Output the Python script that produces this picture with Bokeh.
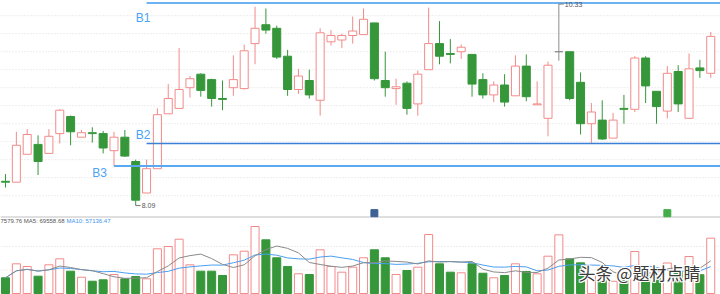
import numpy as np
import pandas as pd
from bokeh.plotting import figure
from bokeh.models import Range1d, Label, Span, BoxAnnotation
from bokeh.embed import file_html
from bokeh.resources import INLINE

# ---- data ----
opens = [8.36, 8.35, 8.66, 8.77, 8.67, 8.89, 9.08, 8.85, 8.90, 8.89,
         8.70, 8.85, 8.58, 8.23, 8.50, 9.11, 9.17, 9.40, 9.55, 9.49,
         9.28, 9.40, 9.39, 9.89, 10.10, 10.06, 9.75, 9.38, 9.48, 9.26,
         9.91, 9.93, 9.98, 9.99, 10.12, 9.48, 9.39, 9.45, 9.22, 9.60,
         9.89, 9.78, 9.80, 9.77, 9.49, 9.32, 9.43, 9.31, 9.64, 9.21,
         9.06, 9.80, 9.80, 9.46, 9.00, 9.04, 8.84, 9.17, 9.16, 9.73,
         9.36, 9.14, 9.58, 9.06, 9.62, 9.56]
highs = [8.44, 8.91, 8.94, 8.87, 8.94, 9.16, 9.09, 8.93, 8.96, 8.92,
         8.91, 8.93, 8.60, 8.60, 9.17, 9.44, 9.84, 9.53, 9.56, 9.50,
         9.48, 9.76, 9.88, 10.30, 10.28, 10.09, 9.82, 9.61, 9.60, 10.06,
         10.04, 10.00, 10.19, 10.28, 10.12, 9.80, 9.50, 9.47, 9.59, 10.29,
         10.14, 9.94, 9.88, 9.77, 9.56, 9.47, 9.55, 9.76, 9.77, 9.47,
         9.69, 10.33, 9.80, 9.57, 9.23, 9.26, 9.12, 9.32, 9.75, 9.75,
         9.36, 9.64, 9.65, 9.78, 9.71, 10.02]
lows = [8.29, 8.35, 8.66, 8.43, 8.67, 8.78, 8.76, 8.85, 8.79, 8.67,
        8.53, 8.63, 8.09, 8.23, 8.50, 9.11, 9.17, 9.29, 9.30, 9.19,
        9.15, 9.31, 9.38, 9.66, 10.00, 9.72, 9.31, 9.33, 9.28, 9.09,
        9.87, 9.84, 9.89, 9.99, 9.48, 9.30, 9.21, 9.10, 9.09, 9.60,
        9.66, 9.67, 9.72, 9.30, 9.28, 9.24, 9.19, 9.31, 9.25, 9.21,
        8.86, 9.70, 9.26, 8.88, 8.78, 8.82, 8.84, 9.00, 9.13, 9.23,
        9.00, 9.06, 9.13, 9.06, 9.51, 9.51]
closes = [8.35, 8.76, 8.88, 8.58, 8.86, 9.15, 8.91, 8.90, 8.89, 8.73,
          8.85, 8.64, 8.15, 8.50, 9.10, 9.28, 9.38, 9.50, 9.37, 9.28,
          9.27, 9.49, 9.81, 10.06, 10.04, 9.74, 9.38, 9.53, 9.32, 10.01,
          9.98, 9.98, 10.03, 10.16, 9.50, 9.40, 9.41, 9.17, 9.55, 9.89,
          9.75, 9.77, 9.85, 9.44, 9.32, 9.43, 9.24, 9.64, 9.30, 9.22,
          9.65, 9.80, 9.28, 9.00, 9.13, 8.83, 9.04, 9.16, 9.73, 9.42,
          9.19, 9.56, 9.22, 9.61, 9.59, 9.97]
volumes = [33400, 63100, 57400, 36800, 61000, 73700, 47400, 34600, 26100, 29100,
           40400, 31200, 36100, 31200, 95000, 99900, 115400, 61000, 47400, 47400,
           38300, 82200, 89900, 142400, 114100, 75900, 57400, 41900, 40400, 92900,
           57400, 45300, 55900, 75900, 92900, 75900, 40400, 48900, 55900, 125400,
           63100, 45300, 44000, 63100, 43100, 33400, 38300, 63100, 46800, 41900,
           79300, 124700, 73700, 65200, 38300, 27600, 26000, 31700, 89300, 38300,
           38300, 64800, 46900, 78600, 39900, 117580]
level_names = ["B1", "B2", "B3"]
level_prices = [10.34, 8.78, 8.53]
level_start = [13, 13, 10]
grid_prices = [8.2, 8.4, 8.6, 8.8, 9.0, 9.2, 9.4, 9.6, 9.8, 10.0, 10.2]
vol_grid = [50000, 100000]
icon_index = [34, 61]
icon_colors = ["#3e6094", "#43ad4a"]

PINK = "#f28a8a"
GREEN = "#36973a"
GRAY = "#8c8c8c"
BLUE = "#4da3f5"

n = len(opens)
idx = np.arange(n)
o = np.array(opens); c = np.array(closes)
h = np.array(highs); l = np.array(lows)
top = np.maximum(o, c); bot = np.minimum(o, c)
colors = [PINK if cc > oo else (GREEN if cc < oo else GRAY) for oo, cc in zip(o, c)]
fills = ["white" if cc > oo else (GREEN if cc < oo else GRAY) for oo, cc in zip(o, c)]
vcolors = [PINK if cc >= oo else GREEN for oo, cc in zip(o, c)]
vfills = ["white" if cc >= oo else GREEN for oo, cc in zip(o, c)]

XMAX = 65.9
p = figure(width=720, height=294, output_backend="svg", toolbar_location=None,
           x_range=Range1d(-0.461, XMAX), y_range=Range1d(7.102, 10.369),
           x_axis_type=None, y_axis_type=None, min_border=0,
           outline_line_color=None, background_fill_color="white",
           border_fill_color="white")
p.extra_y_ranges = {"vol": Range1d(-2125.5, 622771.5)}

# grids (drawn beneath the marks)
for g in grid_prices:
    p.add_layout(Span(location=g, dimension="width", line_color="#dcdcdc",
                      line_dash="1 2", line_width=1, level="underlay"))
for g in vol_grid:
    p.add_layout(Span(location=g, dimension="width", y_range_name="vol",
                      line_color="#dcdcdc", line_dash="1 2", line_width=1, level="underlay"))
p.add_layout(Span(location=7.963, dimension="width", line_color="#d4d4d4",
                  line_width=1.5, level="underlay"))

# candles: upper and lower wicks, then bodies
p.segment(idx, h, idx, top, color=colors, line_width=1)
p.segment(idx, bot, idx, l, color=colors, line_width=1)
p.vbar(x=idx, top=top, bottom=bot, width=0.74,
       fill_color=fills, line_color=colors, line_width=1)

# volume
p.vbar(x=idx, top=volumes, bottom=0, width=0.74, y_range_name="vol",
       fill_color=vfills, line_color=vcolors, line_width=1)
vs = pd.Series(volumes, dtype=float)
ma5 = vs.rolling(5, min_periods=1).mean()
ma10 = vs.rolling(10, min_periods=1).mean()
p.line(idx, ma10, y_range_name="vol", line_color="#4a9ff0", line_width=1)
p.line(idx, ma5, y_range_name="vol", line_color="#8a8a8a", line_width=1)

# level lines
lcolors = ["#6db3f2", "#3a7fd8", "#5aa9f2"]
lwidths = [2, 1.5, 2]
for name, pr, st, lc, lw in zip(level_names, level_prices, level_start, lcolors, lwidths):
    p.segment(x0=[st], y0=[pr], x1=[XMAX + 1], y1=[pr], line_color=lc, line_width=lw)

label_pos = {"B1": (12, 10.169), "B2": (12, 8.872), "B3": (8, 8.45)}
for name in level_names:
    lx, ly = label_pos[name]
    p.add_layout(Label(x=lx, y=ly, text=name, text_color=BLUE, text_font_size="12px",
                       text_font="Liberation Sans", text_baseline="middle", text_align="left"))

# extreme markers
imax = int(np.argmax(highs)); imin = int(np.argmin(lows))
for i, val, in [(imax, highs[imax]), (imin, lows[imin])]:
    p.segment(x0=[i], y0=[val], x1=[i + 0.45], y1=[val], line_color="#777777", line_width=1)
    p.add_layout(Label(x=i + 0.55, y=val, text=f"{val:.2f}", text_color="#555555",
                       text_font_size="7px", text_font="Liberation Sans",
                       text_baseline="middle", text_align="left"))

# small icons at bottom of price panel
for ii, ic in zip(icon_index, icon_colors):
    p.add_layout(BoxAnnotation(left=ii - 0.32, right=ii + 0.32, bottom=7.966, top=8.045,
                               fill_color=ic, fill_alpha=1.0, line_color=ic,
                               line_alpha=1.0, line_width=1))

# volume header text
p.add_layout(Label(x=0, y=73.5, x_units="screen", y_units="screen",
                   text="7579.76 MA5: 69558.68", text_color="#555555",
                   text_font_size="6px", text_font="Liberation Sans", text_baseline="middle"))
p.add_layout(Label(x=66, y=73.5, x_units="screen", y_units="screen",
                   text="MA10: 57136.47", text_color="#3d94ef",
                   text_font_size="6px", text_font="Liberation Sans", text_baseline="middle"))

# watermark
wm = "头条 @题材点睛"
for dx, dy in [(-1, 0), (1, 0), (0, -1), (0, 1), (-1, -1), (1, 1), (-1, 1), (1, -1)]:
    p.add_layout(Label(x=578 + dx, y=22 + dy, x_units="screen", y_units="screen", text=wm,
                       text_color="white", text_font_size="17px",
                       text_font="Noto Sans CJK SC", text_baseline="middle"))
p.add_layout(Label(x=578, y=22, x_units="screen", y_units="screen", text=wm,
                   text_color="#3a3a3a", text_font_size="17px",
                   text_font="Noto Sans CJK SC", text_baseline="middle"))

open("out.html", "w").write(file_html(p, INLINE))
